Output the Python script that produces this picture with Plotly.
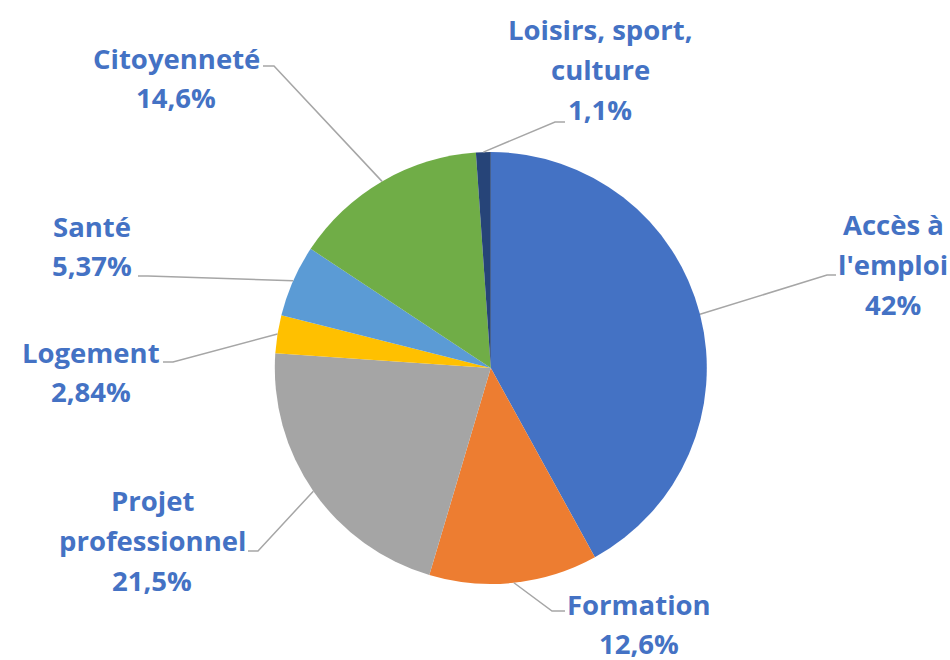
import math
import plotly.graph_objects as go

# ---- data ----
categories = ["Accès à l'emploi", "Formation", "Projet professionnel", "Logement",
              "Santé", "Citoyenneté", "Loisirs, sport, culture"]
label_lines = [["Accès à", "l'emploi"], ["Formation"], ["Projet", "professionnel"],
               ["Logement"], ["Santé"], ["Citoyenneté"], ["Loisirs, sport,", "culture"]]
values = [42, 12.6, 21.5, 2.84, 5.37, 14.6, 1.1]
colors = ["#4472C4", "#ED7D31", "#A5A5A5", "#FFC000", "#5B9BD5", "#70AD47", "#264478"]

# ---- layout (pixels in a 950x660 page) ----
W, H = 950, 660
CX, CY, R = 490.8, 368.0, 216.0
# label centre x, first line y, elbow point, end of horizontal stub
label_cx = [893, 639, 152, 91, 92, 176, 600]
label_y0 = [225, 604, 501, 352, 226, 58, 30]
elbow = [(827, 275), (552, 611), (258, 551), (173, 362), (148, 276), (274, 66), (555, 122)]
stub_x = [836, 565, 248, 163, 138, 263, 565]
LINE_STEP = 39.5
TEXT_COLOR = "#4472C4"
LEADER_COLOR = "#A6A6A6"


def px(x):
    return x / W


def py(y):
    return 1 - y / H


fig = go.Figure(go.Pie(
    labels=categories,
    values=values,
    marker=dict(colors=colors, line=dict(width=0)),
    sort=False,
    direction="clockwise",
    rotation=0,
    textinfo="none",
    hoverinfo="label+percent",
    showlegend=False,
    domain=dict(x=[px(CX - R), px(CX + R)], y=[py(CY + R), py(CY - R)]),
))

total = sum(values)
cum = 0.0
shapes = []
annotations = []
for i, v in enumerate(values):
    mid = (cum + v / 2) / total * 2 * math.pi
    cum += v
    ex = CX + R * math.sin(mid)
    ey = CY - R * math.cos(mid)
    bx, by = elbow[i]
    path = f"M {px(ex)},{py(ey)} L {px(bx)},{py(by)} L {px(stub_x[i])},{py(by)}"
    shapes.append(dict(type="path", xref="paper", yref="paper", path=path,
                       line=dict(color=LEADER_COLOR, width=1.5)))
    pct = f"{v:g}".replace(".", ",") + "%"
    lines = label_lines[i] + [pct]
    for k, t in enumerate(lines):
        annotations.append(dict(
            x=px(label_cx[i]), y=py(label_y0[i] + k * LINE_STEP),
            xref="paper", yref="paper", text=t, showarrow=False,
            xanchor="center", yanchor="middle",
            font=dict(family="Open Sans", size=27.5, color=TEXT_COLOR, weight="bold"),
        ))

fig.update_layout(
    width=W, height=H,
    margin=dict(l=0, r=0, t=0, b=0),
    paper_bgcolor="white",
    plot_bgcolor="white",
    shapes=shapes,
    annotations=annotations,
)

fig.write_html("out.html",
               config={"displayModeBar": False},
               post_script="document.body.style.margin='0px';document.body.style.overflow='hidden';")
